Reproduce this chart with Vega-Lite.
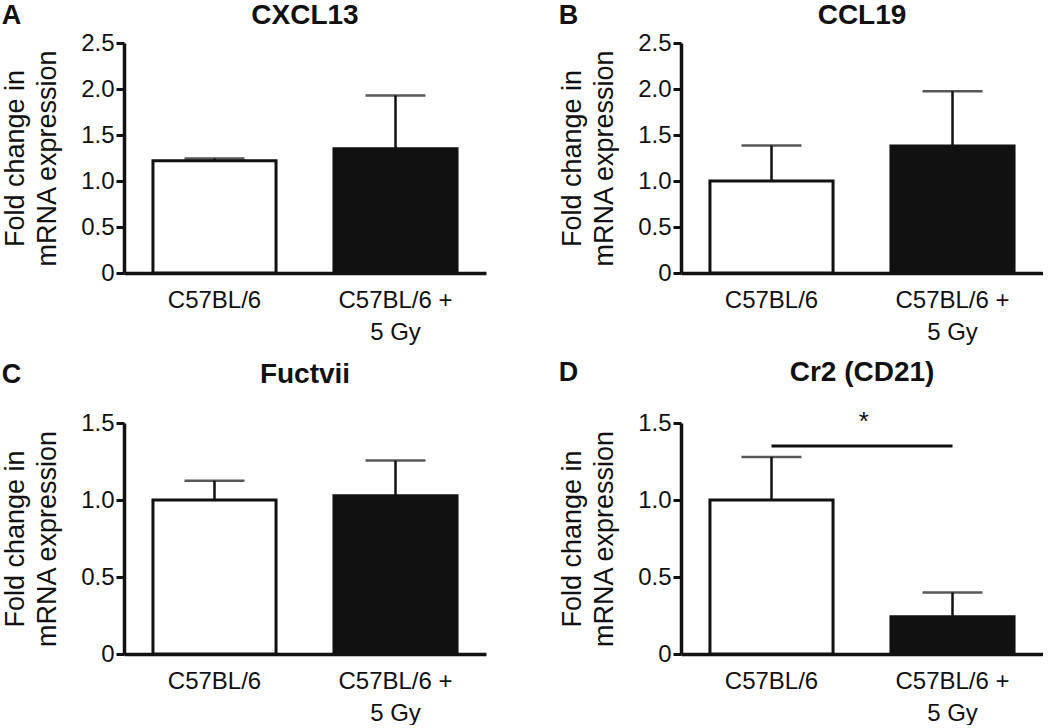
{
  "$schema": "https://vega.github.io/schema/vega-lite/v6.json",
  "background": "white",
  "padding": {"left": 1, "top": 2, "right": 0, "bottom": 0},
  "datasets": {
    "bars": [
      {"gene": "CXCL13", "group": "C57BL/6", "mean": 1.22, "upper": 1.245},
      {"gene": "CXCL13", "group": "C57BL/6 + 5 Gy", "mean": 1.35, "upper": 1.93},
      {"gene": "CCL19", "group": "C57BL/6", "mean": 1.0, "upper": 1.385},
      {"gene": "CCL19", "group": "C57BL/6 + 5 Gy", "mean": 1.38, "upper": 1.975},
      {"gene": "Fuctvii", "group": "C57BL/6", "mean": 1.0, "upper": 1.125},
      {"gene": "Fuctvii", "group": "C57BL/6 + 5 Gy", "mean": 1.027, "upper": 1.256},
      {"gene": "Cr2 (CD21)", "group": "C57BL/6", "mean": 1.0, "upper": 1.28},
      {"gene": "Cr2 (CD21)", "group": "C57BL/6 + 5 Gy", "mean": 0.242, "upper": 0.4}
    ],
    "sig": [
      {"gene": "Cr2 (CD21)", "from": "C57BL/6", "to": "C57BL/6 + 5 Gy", "level": 1.35, "starLevel": 1.455, "label": "*"}
    ]
  },
  "concat": [
    {
      "title": {"text": "A", "anchor": "start", "frame": "bounds", "offset": -28, "fontSize": 27, "fontWeight": "bold"},
      "vconcat": [
        {
          "width": 362, "height": 230,
          "title": {"text": "CXCL13", "offset": 1},
          "data": {"name": "bars"},
          "transform": [{"filter": "datum.gene == 'CXCL13'"}],
          "encoding": {"x": {"field": "group", "type": "nominal", "sort": null, "scale": {"paddingInner": 0.32, "paddingOuter": 0.16}}},
          "layer": [
            {"mark": {"type": "bar", "stroke": "#111", "strokeWidth": 3},
             "encoding": {
               "y": {"field": "mean", "type": "quantitative", "scale": {"domain": [0, 2.5], "nice": false}, "axis": {"values": [0, 0.5, 1, 1.5, 2, 2.5], "title": ["Fold change in", "mRNA expression"]}},
               "fill": {"field": "group", "type": "nominal", "scale": {"domain": ["C57BL/6", "C57BL/6 + 5 Gy"], "range": ["#ffffff", "#111111"]}, "legend": null}}},
            {"mark": {"type": "rule", "color": "#111", "strokeWidth": 2.5},
             "encoding": {"y": {"field": "mean", "type": "quantitative"}, "y2": {"field": "upper"}}},
            {"mark": {"type": "tick", "color": "#111", "thickness": 2.5, "size": 60},
             "encoding": {"y": {"field": "upper", "type": "quantitative"}}}
          ]
        }
      ]
    },
    {
      "title": {"text": "B", "anchor": "start", "frame": "bounds", "offset": -28, "fontSize": 27, "fontWeight": "bold"},
      "vconcat": [
        {
          "width": 362, "height": 230,
          "title": {"text": "CCL19", "offset": 1},
          "data": {"name": "bars"},
          "transform": [{"filter": "datum.gene == 'CCL19'"}],
          "encoding": {"x": {"field": "group", "type": "nominal", "sort": null, "scale": {"paddingInner": 0.32, "paddingOuter": 0.16}}},
          "layer": [
            {"mark": {"type": "bar", "stroke": "#111", "strokeWidth": 3},
             "encoding": {
               "y": {"field": "mean", "type": "quantitative", "scale": {"domain": [0, 2.5], "nice": false}, "axis": {"values": [0, 0.5, 1, 1.5, 2, 2.5], "title": ["Fold change in", "mRNA expression"]}},
               "fill": {"field": "group", "type": "nominal", "scale": {"domain": ["C57BL/6", "C57BL/6 + 5 Gy"], "range": ["#ffffff", "#111111"]}, "legend": null}}},
            {"mark": {"type": "rule", "color": "#111", "strokeWidth": 2.5},
             "encoding": {"y": {"field": "mean", "type": "quantitative"}, "y2": {"field": "upper"}}},
            {"mark": {"type": "tick", "color": "#111", "thickness": 2.5, "size": 60},
             "encoding": {"y": {"field": "upper", "type": "quantitative"}}}
          ]
        }
      ]
    },
    {
      "title": {"text": "C", "anchor": "start", "frame": "bounds", "offset": -28, "fontSize": 27, "fontWeight": "bold"},
      "vconcat": [
        {
          "width": 362, "height": 231,
          "title": {"text": "Fuctvii", "offset": 22},
          "data": {"name": "bars"},
          "transform": [{"filter": "datum.gene == 'Fuctvii'"}],
          "encoding": {"x": {"field": "group", "type": "nominal", "sort": null, "scale": {"paddingInner": 0.32, "paddingOuter": 0.16}}},
          "layer": [
            {"mark": {"type": "bar", "stroke": "#111", "strokeWidth": 3},
             "encoding": {
               "y": {"field": "mean", "type": "quantitative", "scale": {"domain": [0, 1.5], "nice": false}, "axis": {"values": [0, 0.5, 1, 1.5], "title": ["Fold change in", "mRNA expression"]}},
               "fill": {"field": "group", "type": "nominal", "scale": {"domain": ["C57BL/6", "C57BL/6 + 5 Gy"], "range": ["#ffffff", "#111111"]}, "legend": null}}},
            {"mark": {"type": "rule", "color": "#111", "strokeWidth": 2.5},
             "encoding": {"y": {"field": "mean", "type": "quantitative"}, "y2": {"field": "upper"}}},
            {"mark": {"type": "tick", "color": "#111", "thickness": 2.5, "size": 60},
             "encoding": {"y": {"field": "upper", "type": "quantitative"}}}
          ]
        }
      ]
    },
    {
      "title": {"text": "D", "anchor": "start", "frame": "bounds", "offset": -28, "fontSize": 27, "fontWeight": "bold"},
      "vconcat": [
        {
          "width": 362, "height": 231,
          "title": {"text": "Cr2 (CD21)", "offset": 22},
          "layer": [
            {
              "data": {"name": "bars"},
              "transform": [{"filter": "datum.gene == 'Cr2 (CD21)'"}],
              "layer": [
                {"mark": {"type": "bar", "stroke": "#111", "strokeWidth": 3},
                 "encoding": {
                   "x": {"field": "group", "type": "nominal", "sort": null, "scale": {"domain": ["C57BL/6", "C57BL/6 + 5 Gy"], "paddingInner": 0.32, "paddingOuter": 0.16}},
                   "y": {"field": "mean", "type": "quantitative", "scale": {"domain": [0, 1.5], "nice": false}, "axis": {"values": [0, 0.5, 1, 1.5], "title": ["Fold change in", "mRNA expression"]}},
                   "fill": {"field": "group", "type": "nominal", "scale": {"domain": ["C57BL/6", "C57BL/6 + 5 Gy"], "range": ["#ffffff", "#111111"]}, "legend": null}}},
                {"mark": {"type": "rule", "color": "#111", "strokeWidth": 2.5},
                 "encoding": {"x": {"field": "group", "type": "nominal", "sort": null}, "y": {"field": "mean", "type": "quantitative"}, "y2": {"field": "upper"}}},
                {"mark": {"type": "tick", "color": "#111", "thickness": 2.5, "size": 60},
                 "encoding": {"x": {"field": "group", "type": "nominal", "sort": null}, "y": {"field": "upper", "type": "quantitative"}}}
              ]
            },
            {
              "data": {"name": "sig"},
              "layer": [
                {"mark": {"type": "rule", "color": "#111", "strokeWidth": 3},
                 "encoding": {"x": {"field": "from", "type": "nominal"}, "x2": {"field": "to"}, "y": {"field": "level", "type": "quantitative"}}},
                {"mark": {"type": "text", "color": "#111", "fontSize": 26, "baseline": "alphabetic"},
                 "encoding": {"x": {"field": "from", "type": "nominal", "bandPosition": 1.25}, "y": {"field": "starLevel", "type": "quantitative"}, "text": {"field": "label"}}}
              ]
            }
          ]
        }
      ]
    }
  ],
  "columns": 2,
  "spacing": {"row": 14, "column": 72},
  "config": {
    "font": "Liberation Sans",
    "view": {"stroke": null},
    "title": {"font": "Liberation Sans", "fontSize": 28, "fontWeight": "bold", "color": "#111"},
    "axis": {
      "grid": false,
      "domainColor": "#111", "domainWidth": 3.5,
      "tickColor": "#111", "tickWidth": 3, "tickSize": 8,
      "labelFont": "Liberation Sans", "labelFontSize": 24, "labelColor": "#111",
      "titleFont": "Liberation Sans", "titleFontSize": 27, "titleFontWeight": "normal", "titleColor": "#111"
    },
    "axisX": {
      "ticks": false, "labelAngle": 0, "title": null, "labelFontSize": 24, "labelLineHeight": 32, "labelPadding": 15,
      "labelExpr": "datum.value == 'C57BL/6 + 5 Gy' ? ['C57BL/6 +', '5 Gy'] : datum.value"
    },
    "axisY": {
      "labelPadding": 2, "titlePadding": 19, "titleLineHeight": 32,
      "labelExpr": "datum.value == 0 ? '0' : format(datum.value, '.1f')"
    }
  }
}
